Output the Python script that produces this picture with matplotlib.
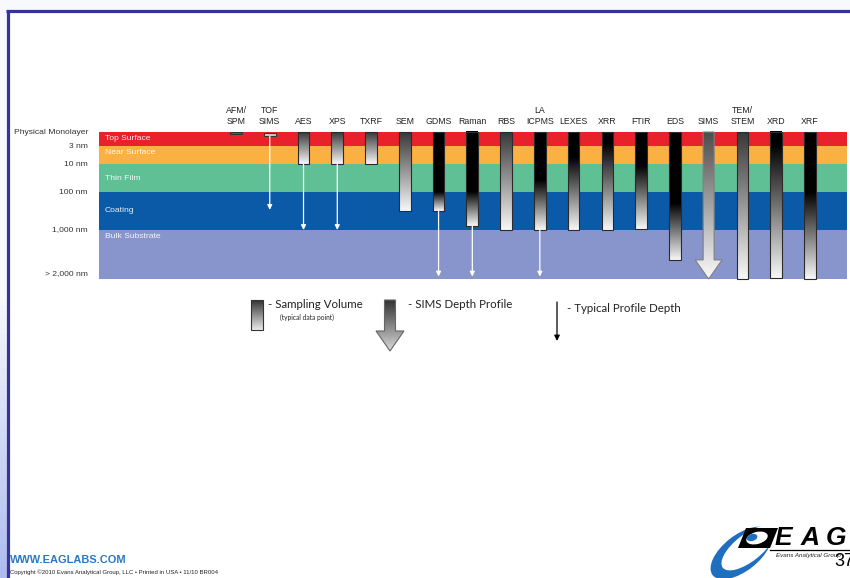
import numpy as np
import matplotlib.pyplot as plt
from matplotlib.patches import Rectangle, Polygon, Ellipse
from matplotlib.colors import LinearSegmentedColormap

# ---------------- data ----------------
depth_labels = ['Physical Monolayer', '3 nm', '10 nm', '100 nm', '1,000 nm', '> 2,000 nm']
layer_names = ['Top Surface', 'Near Surface', 'Thin Film', 'Coating', 'Bulk Substrate']
layer_colors = ['#e8212b', '#fbb042', '#5fc095', '#0a5aa8', '#8795cc']

techniques = ['AFM/\nSPM', 'TOF\nSIMS', 'AES', 'XPS', 'TXRF', 'SEM', 'GDMS', 'Raman', 'RBS',
              'LA\nICPMS', 'LEXES', 'XRR', 'FTIR', 'EDS', 'SIMS', 'TEM/\nSTEM', 'XRD', 'XRF']
# depths in layer units: 0 = surface, 1 = 3 nm, 2 = 10 nm, 3 = 100 nm, 4 = 1,000 nm, 5 = > 2,000 nm
sample_top = [0.0, 0.1, 0, 0, 0, 0, 0, 0, 0, 0, 0, 0, 0, 0, 0, 0, 0, 0]
sample_bottom = [0.13, 0.3, 2.0, 2.0, 2.0, 3.5, 3.5, 3.9, 4.0, 4.0, 4.0, 4.0, 3.97, 4.61, 5.0, 5.0, 4.98, 5.0]
black_end = [0, 0, 0, 0, 0, 0, 3.0, 3.0, 0, 2.57, 1.6, 0.8, 2.04, 3.29, 0, 0, 0.9, 3.0]
profile_depth = [np.nan, 3.47, 4.0, 4.0, np.nan, np.nan, 4.95, 4.95, np.nan, 4.95,
                 np.nan, np.nan, np.nan, np.nan, np.nan, np.nan, np.nan, np.nan]
big_arrow = 'SIMS'

# ---------------- layout (pixels) ----------------
W, H = 850, 578
layer_px = [132, 146, 164, 192, 230, 279]
band_left, band_right = 99, 847
col_x0, col_step, col_w = 236, 33.76, 11.7


def ypx(d):
    return np.interp(d, np.arange(len(layer_px)), layer_px)


plt.rcParams['font.family'] = ['Liberation Sans', 'DejaVu Sans']
fig = plt.figure(figsize=(W / 100, H / 100), dpi=100, facecolor='#f8f9fd')
ax = fig.add_axes([0, 0, 1, 1])
ax.axis('off')


def grad(x0, x1, y0, y1, v0, v1, yb=None, clip=None, z=3):
    ys = np.linspace(y0, y1, 300)
    if yb is not None:
        vals = np.where(ys < yb, 0.0, v0 + (ys - yb) / (y1 - yb) * (v1 - v0))
    else:
        vals = v0 + (ys - y0) / (y1 - y0) * (v1 - v0)
    img = np.repeat(vals[:, None], 2, axis=1)
    im = ax.imshow(img, cmap='gray', vmin=0, vmax=1, extent=(x0, x1, y1, y0),
                   aspect='auto', interpolation='bilinear', zorder=z)
    if clip is not None:
        im.set_clip_path(clip)
    return im


# page frame
ax.add_patch(Rectangle((8, 10), W - 8, H - 10, fc='white', ec='none', zorder=0))
side = LinearSegmentedColormap.from_list('side', ['#f8f9fd', '#f8f9fd', '#aebbef'])
ax.imshow(np.linspace(0, 1, 100)[:, None], cmap=side, extent=(0, 7.5, H, 10),
          aspect='auto', zorder=0)
ax.plot([6, W], [10.5, 10.5], color='#34349a', lw=2.3, zorder=1, solid_capstyle='butt')
ax.plot([8.5, 8.5], [9.5, H], color='#34349a', lw=2.3, zorder=1, solid_capstyle='butt')

# layer bands
for i, (name, c) in enumerate(zip(layer_names, layer_colors)):
    y0, y1 = ypx(i), ypx(i + 1)
    ax.add_patch(Rectangle((band_left, y0), band_right - band_left, y1 - y0, fc=c, ec='none', zorder=1))
    ty = y0 + 7 if i in (0, 1, 4) else (y0 + y1) / 2
    ax.text(band_left + 6, ty, name, color='white', alpha=0.9, fontsize=6.1, va='center', ha='left', zorder=2)

# depth labels
for i, lab in enumerate(depth_labels):
    y = ypx(i) if i < 5 else ypx(i) - 5
    ax.text(88, y, lab, fontsize=6.1, ha='right', va='center', color='#333333')

# technique columns
for i, tech in enumerate(techniques):
    xc = col_x0 + i * col_step
    ax.text(xc, 126, tech, fontsize=6.3, ha='center', va='bottom', color='#222222', linespacing=1.3)
    top, bot = ypx(sample_top[i]), ypx(sample_bottom[i])
    if tech == big_arrow:
        hs, hh, ytip = 5.5, 13.5, bot
        yhead = ypx(4.61)
        pts = [(xc - hs, top), (xc + hs, top), (xc + hs, yhead), (xc + hh, yhead),
               (xc, ytip), (xc - hh, yhead), (xc - hs, yhead)]
        poly = Polygon(pts, closed=True, fc='none', ec='#808080', lw=0.8, zorder=4)
        ax.add_patch(poly)
        grad(xc - hh, xc + hh, top, ytip, 0.3, 0.98, clip=poly)
        continue
    if bot - top < 6:
        fc = '#555555' if i == 0 else '#c4c4c4'
        ax.add_patch(Rectangle((xc - col_w / 2, top), col_w, bot - top, fc=fc, ec='#333333', lw=0.7, zorder=4))
    else:
        yb = ypx(black_end[i]) if black_end[i] > 0 else None
        grad(xc - col_w / 2, xc + col_w / 2, top, bot, 0.0 if yb else 0.22, 0.97, yb=yb)
        ax.add_patch(Rectangle((xc - col_w / 2, top), col_w, bot - top, fill=False,
                               ec='#2b2b2b', lw=0.8, zorder=4))
    if not np.isnan(profile_depth[i]):
        ax.annotate('', xy=(xc, ypx(profile_depth[i])), xytext=(xc, bot),
                    arrowprops=dict(arrowstyle='-|>', color='white', lw=0.9,
                                    mutation_scale=7, shrinkA=0, shrinkB=0), zorder=5)

# legend
grad(251, 263, 300, 330, 0.2, 0.92)
ax.add_patch(Rectangle((251, 300), 12, 30, fill=False, ec='#333333', lw=0.8, zorder=4))
ax.text(268, 304, '- Sampling Volume', fontsize=8.3, family=['Lato', 'DejaVu Sans'], va='center', color='#222222')
ax.text(280, 317, '(typical data point)', fontsize=4.8, family=['Lato', 'DejaVu Sans'], va='center', color='#222222')

lpts = [(384.5, 300), (395.5, 300), (395.5, 331), (404, 331), (390, 351), (376, 331), (384.5, 331)]
lpoly = Polygon(lpts, closed=True, fc='none', ec='#666666', lw=0.8, zorder=4)
ax.add_patch(lpoly)
grad(376, 404, 300, 351, 0.2, 0.85, clip=lpoly)
ax.text(408, 304.5, '- SIMS Depth Profile', fontsize=8.3, family=['Lato', 'DejaVu Sans'], va='center', color='#222222')

ax.annotate('', xy=(557, 341), xytext=(557, 302),
            arrowprops=dict(arrowstyle='-|>', color='black', lw=0.9, mutation_scale=8, shrinkA=0, shrinkB=0))
ax.text(567, 308, '- Typical Profile Depth', fontsize=8.3, family=['Lato', 'DejaVu Sans'], va='center', color='#222222')

# footer
ax.text(10, 560, 'WWW.EAGLABS.COM', fontsize=7.9, fontweight='bold', color='#2a78c2', va='center')
ax.text(10, 572.5, 'Copyright \u00a92010 Evans Analytical Group, LLC \u2022 Printed in USA \u2022 11/10 BR004',
        fontsize=4.3, color='#222222', va='center')

# logo
ax.add_patch(Ellipse((741, 553), 72, 36, angle=-38, fc='#1f6fc0', ec='none', zorder=2))
ax.add_patch(Ellipse((748, 548), 64, 27, angle=-38, fc='white', ec='none', zorder=2))
ax.add_patch(Polygon([(746, 528), (778, 528), (770, 548), (738, 548)], closed=True, fc='black', zorder=3))
ax.add_patch(Ellipse((757, 538), 22, 12, angle=-15, fc='white', ec='none', zorder=4))
ax.add_patch(Ellipse((752, 537.5), 11, 7, angle=-15, fc='#1f6fc0', ec='none', zorder=5))
for k, ch in enumerate('EAG'):
    ax.text(775 + k * 25.5, 538, ch, fontsize=19, fontweight='bold', style='italic', va='center', ha='left')
ax.plot([770, W], [549.5, 549.5], color='black', lw=0.9)
ax.text(776, 556, 'Evans Analytical Group', fontsize=4.5, style='italic', va='center', color='#222222')
ax.text(834, 561, '37', fontsize=13, va='center', color='black')

ax.set_xlim(0, W)
ax.set_ylim(H, 0)
fig.savefig('out.png', dpi=100, facecolor=fig.get_facecolor())
